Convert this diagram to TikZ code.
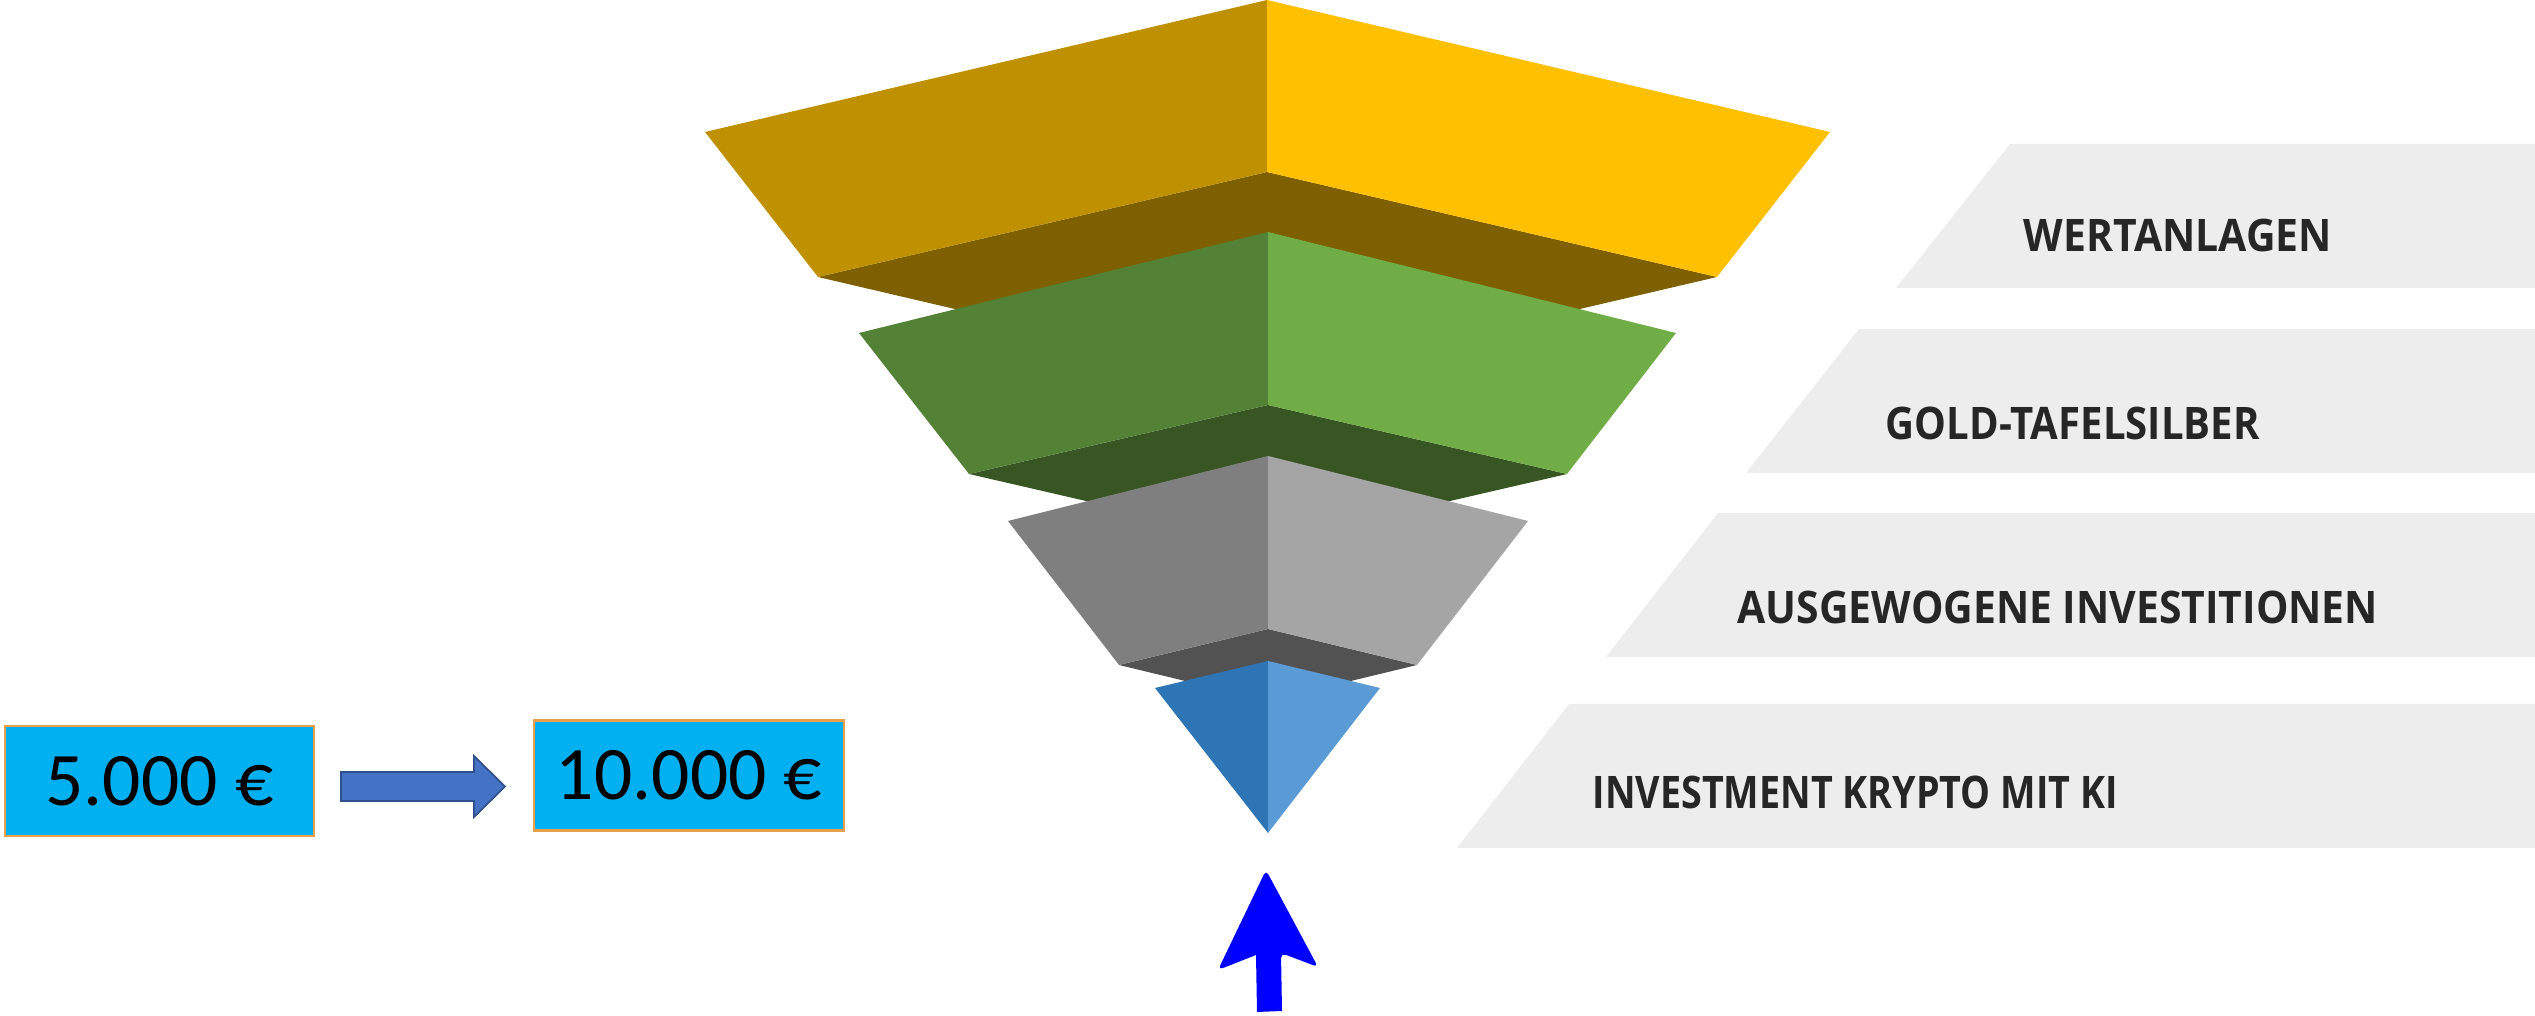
\documentclass[tikz,border=0pt]{standalone}
\usepackage{fontspec}
\usepackage{graphicx}
\setmainfont{Carlito}
\newfontfamily\labelfont{Open Sans}
\newfontfamily\moneyfont{Carlito}
\usetikzlibrary{calc}
\definecolor{goldL}{HTML}{BF9000}
\definecolor{goldR}{HTML}{FFC000}
\definecolor{goldD}{HTML}{7F6000}
\definecolor{greenL}{HTML}{538135}
\definecolor{greenR}{HTML}{70AD47}
\definecolor{greenD}{HTML}{375623}
\definecolor{greyL}{HTML}{7F7F7F}
\definecolor{greyR}{HTML}{A5A5A5}
\definecolor{greyD}{HTML}{525252}
\definecolor{blueL}{HTML}{2E75B6}
\definecolor{blueR}{HTML}{5B9BD5}
\definecolor{panel}{HTML}{EDEDED}
\definecolor{labeltext}{HTML}{262626}
\definecolor{money}{HTML}{00B0F0}
\definecolor{moneyborder}{HTML}{E8A04A}
\definecolor{blockarrow}{HTML}{4472C4}
\definecolor{blockarrowborder}{HTML}{2F528F}
\tikzset{
  lbl/.style={anchor=base west, inner sep=0pt, text=labeltext, font=\labelfont\bfseries\fontsize{12.75}{14}\selectfont},
  moneybox/.style={draw=moneyborder, line width=0.6pt, fill=money, minimum width=3.09cm, minimum height=1.10cm, inner sep=0pt, font=\moneyfont\fontsize{21.5}{24}\selectfont},
}
\begin{document}
\begin{tikzpicture}[x=0.01cm, y=-0.01cm]
\useasboundingbox (0,0) rectangle (2535,1016);
% panels
\fill[panel] (2010,144) -- (2535,144) -- (2535,288) -- (1896,288) -- cycle;
\fill[panel] (1859,329) -- (2535,329) -- (2535,473) -- (1746,473) -- cycle;
\fill[panel] (1718,513) -- (2535,513) -- (2535,657) -- (1606,657) -- cycle;
\fill[panel] (1569,704) -- (2535,704) -- (2535,848) -- (1457,848) -- cycle;
\node[lbl] (l1) at (2023,252) {\scalebox{0.913}[1]{WERTANLAGEN}};
\node[lbl] (l2) at (1885,440) {\scalebox{0.895}[1]{GOLD-TAFELSILBER}};
\node[lbl] (l3) at (1737,624) {\scalebox{0.912}[1]{AUSGEWOGENE INVESTITIONEN}};
\node[lbl] (l4) at (1592,809) {\scalebox{0.84}[1]{INVESTMENT KRYPTO MIT KI}};
% gold layer
\fill[goldD] (818,277) -- (1267,172) -- (1717,277) -- (1267,382) -- cycle;
\fill[goldL] (705,132) -- (1267,0) -- (1267,172) -- (818,277) -- cycle;
\fill[goldR] (1267,0) -- (1830,132) -- (1717,277) -- (1267,172) -- cycle;
% green layer
\fill[greenD] (969,474) -- (1268,405) -- (1567,474) -- (1268,543) -- cycle;
\fill[greenL] (859,333) -- (1268,232) -- (1268,405) -- (969,474) -- cycle;
\fill[greenR] (1268,232) -- (1676,333) -- (1567,474) -- (1268,405) -- cycle;
% grey layer
\fill[greyD] (1119,665) -- (1268,629) -- (1417,665) -- (1268,701) -- cycle;
\fill[greyL] (1008,521) -- (1268,456) -- (1268,629) -- (1119,665) -- cycle;
\fill[greyR] (1268,456) -- (1528,521) -- (1417,665) -- (1268,629) -- cycle;
% blue layer
\fill[blueL] (1155,688) -- (1268,661) -- (1268,833) -- cycle;
\fill[blueR] (1268,661) -- (1380,688) -- (1268,833) -- cycle;
% money boxes
\node[moneybox] (m1) at (159.5,781) {5.000 €};
\node[moneybox] (m2) at (689,775.5) {10.000 €};
% block arrow between boxes
\coordinate (a1) at (341,786.5);
\coordinate (a2) at (505,786.5);
\draw[fill=blockarrow, draw=blockarrowborder, line width=0.5pt, line join=miter]
  ($(a1)+(0,-14.5)$) -- ($(a2)+(-31,-14.5)$) -- ($(a2)+(-31,-30.5)$) -- (a2)
  -- ($(a2)+(-31,30.5)$) -- ($(a2)+(-31,14.5)$) -- ($(a1)+(0,14.5)$) -- cycle;
% up arrow
\coordinate (tip) at (1266,870);
\fill[blue, rounded corners=0.05cm] (tip) -- (1318,967) -- (1281,953) [sharp corners] -- (1282,1011) -- (1257,1012) -- (1256,955) [rounded corners=0.05cm] -- (1218,970) -- cycle;
\end{tikzpicture}
\end{document}
